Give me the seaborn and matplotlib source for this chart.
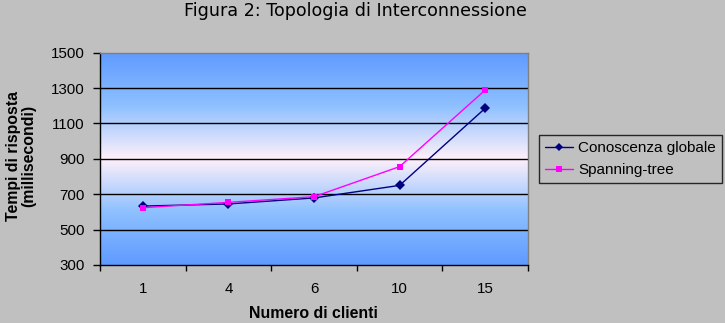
import numpy as np
import pandas as pd
import matplotlib
matplotlib.use("Agg")
import matplotlib.pyplot as plt
import seaborn as sns
from matplotlib.colors import LinearSegmentedColormap
from matplotlib.lines import Line2D

categories = ["1", "4", "6", "10", "15"]
conoscenza = [633, 645, 679, 750, 1186]
spanning = [624, 654, 686, 856, 1289]
series_names = ["Conoscenza globale", "Spanning-tree"]
yticks = [300, 500, 700, 900, 1100, 1300, 1500]

pos = np.arange(len(categories))
df = pd.DataFrame({
    "pos": np.concatenate([pos, pos]),
    "value": conoscenza + spanning,
    "serie": [series_names[0]] * len(categories) + [series_names[1]] * len(categories),
})

sns.set_theme(style="white")
plt.rcParams["font.family"] = ["Liberation Sans", "DejaVu Sans"]
plt.rcParams["text.color"] = "black"
plt.rcParams["xtick.color"] = "black"
plt.rcParams["ytick.color"] = "black"
plt.rcParams["axes.labelcolor"] = "black"

bg = "#C0C0C0"
fig = plt.figure(figsize=(7.25, 3.23), dpi=100, facecolor=bg)
ax = fig.add_axes([100/725, (323-265)/323, 428/725, 212.3/323])

# gradient background
cmap = LinearSegmentedColormap.from_list("g", [(0, "#5F9AFF"), (0.25, "#8EC0FF"), (0.5, "#FFF0FA"), (0.75, "#8EC0FF"), (1, "#5F9AFF")])
grad = np.linspace(0, 1, 256).reshape(-1, 1)
ax.imshow(grad, aspect="auto", cmap=cmap, extent=[-0.5, 4.5, 300, 1500], origin="lower", zorder=0)

for y in yticks[1:-1]:
    ax.axhline(y, color="black", lw=1.0, zorder=1)

sns.lineplot(data=df, x="pos", y="value", hue="serie", style="serie",
             palette={series_names[0]: "#000080", series_names[1]: "#FF00FF"},
             markers={series_names[0]: "D", series_names[1]: "s"},
             dashes=False, markersize=5, linewidth=1, markeredgewidth=0,
             ax=ax, zorder=3, legend=False)

fs = 10.9
ax.set_xlim(-0.5, 4.5)
ax.set_ylim(300, 1500)
ax.set_yticks(yticks)
ax.set_yticklabels([str(v) for v in yticks])
ax.set_xticks(np.arange(-0.5, 5, 1))
ax.set_xticklabels([])
ax.set_xticks(pos, minor=True)
ax.set_xticklabels(categories, minor=True)
ax.tick_params(axis="x", which="major", direction="out", length=4, width=1, color="black", bottom=True)
ax.tick_params(axis="x", which="minor", length=0, pad=12, labelsize=fs)
ax.tick_params(axis="y", direction="out", length=5, width=1, color="black", left=True, pad=6, labelsize=fs)
ax.set_facecolor(bg)
for s in ["top", "right"]:
    ax.spines[s].set_color("#808080")
    ax.spines[s].set_linewidth(1)
for s in ["left", "bottom"]:
    ax.spines[s].set_color("black")
    ax.spines[s].set_linewidth(1)
ax.set_xlabel("")
ax.set_ylabel("")

fig.text(21/725, 1 - 156/323, "Tempi di risposta\n(millisecondi)", rotation=90, ha="center", va="center",
         fontsize=11.4, fontweight="bold", linespacing=1.05)
fig.text(313/725, 1 - 314/323, "Numero di clienti", ha="center", va="center", fontsize=11.4, fontweight="bold")
fig.text(355/725, 1 - 11/323, "Figura 2: Topologia di Interconnessione", ha="center", va="center",
         fontsize=12.6, family=["DejaVu Sans"])

handles = [Line2D([], [], color="#000080", marker="D", markersize=4, lw=1, markeredgewidth=0),
           Line2D([], [], color="#FF00FF", marker="s", markersize=5, lw=1, markeredgewidth=0)]
leg = fig.legend(handles, series_names, loc="upper left", bbox_to_anchor=(539/725, 1 - 135/323),
                 frameon=True, fontsize=11, handlelength=1.8, borderpad=0.42, labelspacing=0.5,
                 handletextpad=0.35, fancybox=False, borderaxespad=0)
leg.get_frame().set_facecolor(bg)
leg.get_frame().set_edgecolor("black")
leg.get_frame().set_linewidth(1)

fig.savefig("out.png", dpi=100, facecolor=bg)
